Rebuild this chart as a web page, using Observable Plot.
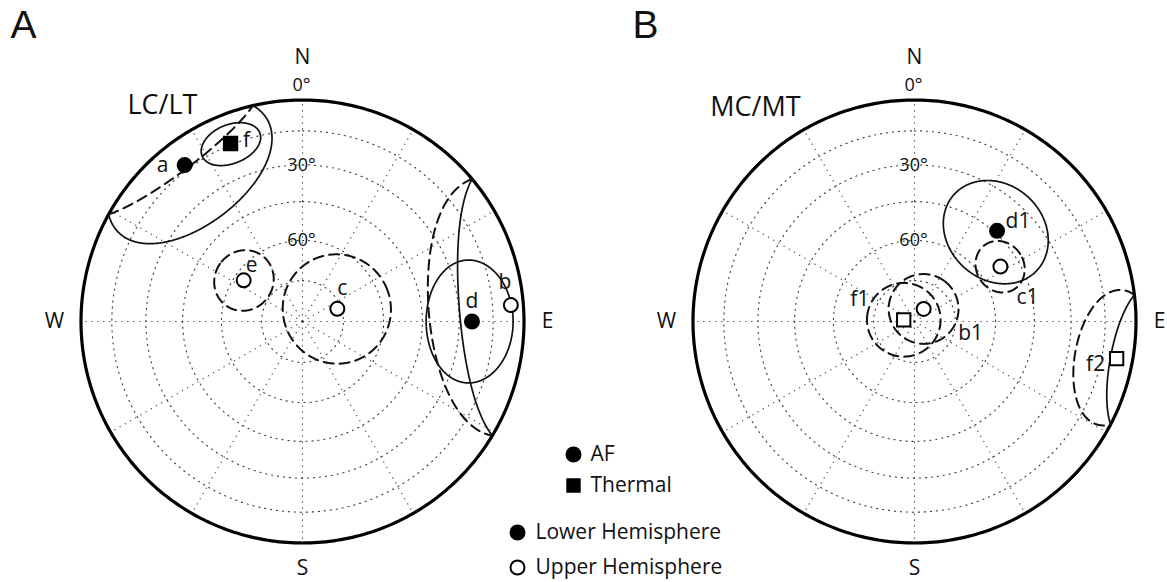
<!DOCTYPE html>
<html>
<head>
<meta charset="utf-8">
<script src="https://cdn.jsdelivr.net/npm/d3@7"></script>
<script src="https://cdn.jsdelivr.net/npm/@observablehq/plot@0.6"></script>
<style>
  html, body { margin: 0; padding: 0; background: #fff; }
  #chart svg { display: block; }
</style>
</head>
<body>
<div id="chart"></div>
<script>
// Site-mean palaeomagnetic directions with a95 confidence circles.
// Panel A: LC/LT components
const sitesA   = ["a", "f", "e", "c", "d", "b"];
const decA     = [323, 338, 305, 70, 90, 85.5];
const incA     = [12.6, 14.4, -63.5, -76.4, 24.5, -6.3];
const a95A     = [27, 9, 11, 20, 19, 36];
const methodA  = ["AF", "Thermal", "AF", "AF", "AF", "AF"];

// Panel B: MC/MT components
const sitesB   = ["d1", "c1", "b1", "f1", "f2"];
const decB     = [42.3, 57.4, 36, 279, 100.4];
const incB     = [43.9, -52, -84.3, -86, -8];
const a95B     = [19, 9.2, 12.8, 13.5, 19];
const methodB  = ["AF", "AF", "AF", "Thermal", "Thermal"];

// Net furniture and text
const panelLetters = ["A", "B"];
const panelNames   = ["LC/LT", "MC/MT"];
const compass      = ["N", "E", "S", "W"];
const ringIncs     = [15, 30, 45, 60, 75];
const incLabels    = [0, 30, 60];
const spokeAzimuths = d3.range(0, 360, 30);
const legendMethods = ["AF", "Thermal"];
const legendHemispheres = ["Lower Hemisphere", "Upper Hemisphere"];

// ---- layout (pixels) ----
const W = 1167, H = 582;
const PX = 221.5;                        // pixels per unit radius of the net
const centersPx = [[302, 321], [914, 321]];
const ux = px => (px - centersPx[0][0]) / PX;
const uy = py => (centersPx[0][1] - py) / PX;
const panelCx = centersPx.map(c => ux(c[0]));
const panelCy = centersPx.map(c => uy(c[1]));

// label offsets (pixels) next to each site symbol
const labelOffA = [[-22, 0], [16, -3], [8, -15], [5, -21], [0, -20], [-6, -23]];
const labelOffB = [[21, -10], [27, 31], [47, 24], [-44, -21], [-21, 6]];

const d2r = Math.PI / 180;

// Lambert equal-area projection of a unit vector (north, east, down); upper
// hemisphere directions are plotted at their absolute inclination.
function project(v) {
  const r = Math.sqrt(Math.max(0, 1 - Math.abs(v[2])));
  const h = Math.hypot(v[0], v[1]) || 1;
  return [r * v[1] / h, r * v[0] / h];
}
function dirVec(dec, inc) {
  const D = dec * d2r, I = inc * d2r;
  return [Math.cos(I) * Math.cos(D), Math.cos(I) * Math.sin(D), Math.sin(I)];
}

// Small circle of radius a95 about a direction, split where it crosses the horizontal
function circleSegments(dec, inc, a95, key) {
  const D = dec * d2r, I = inc * d2r, A = a95 * d2r;
  const c = dirVec(dec, inc);
  const u = [-Math.sin(I) * Math.cos(D), -Math.sin(I) * Math.sin(D), Math.cos(I)];
  const w = [c[1] * u[2] - c[2] * u[1], c[2] * u[0] - c[0] * u[2], c[0] * u[1] - c[1] * u[0]];
  const at = t => [0, 1, 2].map(k => Math.cos(A) * c[k] + Math.sin(A) * (Math.cos(t) * u[k] + Math.sin(t) * w[k]));
  const n = 720;
  const segs = [];
  let cur = null, prev = null;
  for (let i = 0; i <= n; i++) {
    const t = 2 * Math.PI * i / n;
    const p = at(t);
    const lower = p[2] >= 0;
    if (prev && prev.lower !== lower) {
      let t0 = prev.t, t1 = t;
      for (let j = 0; j < 40; j++) {
        const tm = (t0 + t1) / 2;
        if ((at(tm)[2] >= 0) === prev.lower) t0 = tm; else t1 = tm;
      }
      const pc = at((t0 + t1) / 2); pc[2] = 0;
      cur.pts.push(pc);
      cur = {lower, pts: [pc]};
      segs.push(cur);
    }
    if (!cur) { cur = {lower, pts: []}; segs.push(cur); }
    cur.pts.push(p);
    prev = {t, lower};
  }
  if (segs.length > 1 && segs[0].lower === segs[segs.length - 1].lower) {
    const last = segs.pop();
    segs[0].pts = last.pts.concat(segs[0].pts);
  }
  const rows = [];
  segs.forEach((s, si) => s.pts.forEach(p => {
    const [x, y] = project(p);
    rows.push({seg: key + "-" + si, lower: s.lower, x, y});
  }));
  return rows;
}

// ---- build tables ----
const panels = [
  {sites: sitesA, dec: decA, inc: incA, a95: a95A, method: methodA, off: labelOffA},
  {sites: sitesB, dec: decB, inc: incB, a95: a95B, method: methodB, off: labelOffB}
];

const siteRows = [];
const circleRows = [];
panels.forEach((P, pi) => {
  P.sites.forEach((s, i) => {
    const [x, y] = project(dirVec(P.dec[i], P.inc[i]));
    const X = panelCx[pi] + x, Y = panelCy[pi] + y;
    siteRows.push({
      site: s, method: P.method[i], lower: P.inc[i] >= 0,
      x: X, y: Y,
      lx: X + P.off[i][0] / PX, ly: Y - P.off[i][1] / PX
    });
    circleSegments(P.dec[i], P.inc[i], P.a95[i], pi + s).forEach(r =>
      circleRows.push({...r, x: panelCx[pi] + r.x, y: panelCy[pi] + r.y}));
  });
});

// grid: inclination rings, azimuth spokes and the primitive
const ringRows = [];
const primitiveRows = [];
const spokeRows = [];
panelCx.forEach((cx, pi) => {
  const cy = panelCy[pi];
  ringIncs.forEach(inc => {
    const r = Math.sqrt(1 - Math.sin(inc * d2r));
    d3.range(0, 361, 2).forEach(a => ringRows.push({ring: pi + "-" + inc, x: cx + r * Math.sin(a * d2r), y: cy + r * Math.cos(a * d2r)}));
  });
  d3.range(0, 361, 1).forEach(a => primitiveRows.push({panel: pi, x: cx + Math.sin(a * d2r), y: cy + Math.cos(a * d2r)}));
  spokeAzimuths.forEach(az => spokeRows.push({x1: cx, y1: cy, x2: cx + Math.sin(az * d2r), y2: cy + Math.cos(az * d2r)}));
});

// compass letters and inclination labels
const compassDist = {N: 264 / PX, E: 245 / PX, S: 247 / PX, W: 248 / PX};
const compassRows = [];
const incLabelRows = [];
panelCx.forEach((cx, pi) => {
  const cy = panelCy[pi];
  compass.forEach((c, k) => {
    const az = k * 90 * d2r, d = compassDist[c];
    compassRows.push({text: c, x: cx + d * Math.sin(az), y: cy + d * Math.cos(az)});
  });
  incLabels.forEach(inc => {
    const r = inc === 0 ? 236 / PX : Math.sqrt(1 - Math.sin(inc * d2r));
    incLabelRows.push({text: inc + "°", x: cx - 1 / PX, y: cy + r});
  });
});

const letterRows = panelLetters.map((t, i) => ({text: t, x: ux([10, 632][i]), y: uy(25)}));
const nameRows = panelNames.map((t, i) => ({text: t, x: ux([162, 755][i]), y: uy([105, 107][i])}));

const legendRows = [
  {text: legendMethods[0], symbol: "circle", fill: "black", x: ux(573), y: uy(454), tx: ux(590)},
  {text: legendMethods[1], symbol: "square", fill: "black", x: ux(573), y: uy(485), tx: ux(590)},
  {text: legendHemispheres[0], symbol: "circle", fill: "black", x: ux(517), y: uy(532), tx: ux(535)},
  {text: legendHemispheres[1], symbol: "circle", fill: "white", x: ux(517), y: uy(567), tx: ux(535)}
];

const dotted = {stroke: "#3a3a3a", strokeWidth: 1.1, strokeDasharray: "1.2,4.8"};
const font = "Open Sans";
const siteFill = d => d.lower ? "#000" : "#fff";

const chart = Plot.plot({
  width: W,
  height: H,
  margin: 0,
  style: {fontFamily: font, background: "#fff", color: "#111"},
  x: {domain: [ux(0), ux(W)], range: [0, W], axis: null},
  y: {domain: [uy(H), uy(0)], range: [H, 0], axis: null},
  marks: [
    Plot.line(ringRows, {x: "x", y: "y", z: "ring", ...dotted}),
    Plot.link(spokeRows, {x1: "x1", y1: "y1", x2: "x2", y2: "y2", ...dotted}),
    Plot.line(primitiveRows, {x: "x", y: "y", z: "panel", stroke: "#000", strokeWidth: 3.2}),
    Plot.line(circleRows.filter(d => d.lower), {x: "x", y: "y", z: "seg", stroke: "#111", strokeWidth: 1.7}),
    Plot.line(circleRows.filter(d => !d.lower), {x: "x", y: "y", z: "seg", stroke: "#111", strokeWidth: 2, strokeDasharray: "10,6"}),
    // AF sites as circles, thermal sites as squares; filled = lower hemisphere
    Plot.dot(siteRows.filter(d => d.method !== "Thermal"), {
      x: "x", y: "y", symbol: "circle", r: 7,
      fill: siteFill, stroke: "#000", strokeWidth: 2
    }),
    Plot.dot(siteRows.filter(d => d.method === "Thermal"), {
      x: "x", y: "y", symbol: "square", r: 7.5,
      fill: siteFill, stroke: "#000", strokeWidth: 2
    }),
    Plot.text(siteRows, {x: "lx", y: "ly", text: "site", fontSize: 21, fill: "#111"}),
    Plot.text(compassRows, {x: "x", y: "y", text: "text", fontSize: 21, fill: "#111"}),
    Plot.text(incLabelRows, {x: "x", y: "y", text: "text", fontSize: 18, fill: "#111"}),
    Plot.text(letterRows, {x: "x", y: "y", text: "text", fontSize: 39, textAnchor: "start", fill: "#111", fontFamily: "Liberation Sans"}),
    Plot.text(nameRows, {x: "x", y: "y", text: "text", fontSize: 27, fill: "#111"}),
    Plot.dot(legendRows, {x: "x", y: "y", symbol: "symbol", r: 7, fill: "fill", stroke: "#000", strokeWidth: 2}),
    Plot.text(legendRows, {x: "tx", y: "y", text: "text", fontSize: 21, textAnchor: "start", fill: "#111"})
  ]
});
document.getElementById("chart").appendChild(chart);
</script>
</body>
</html>
